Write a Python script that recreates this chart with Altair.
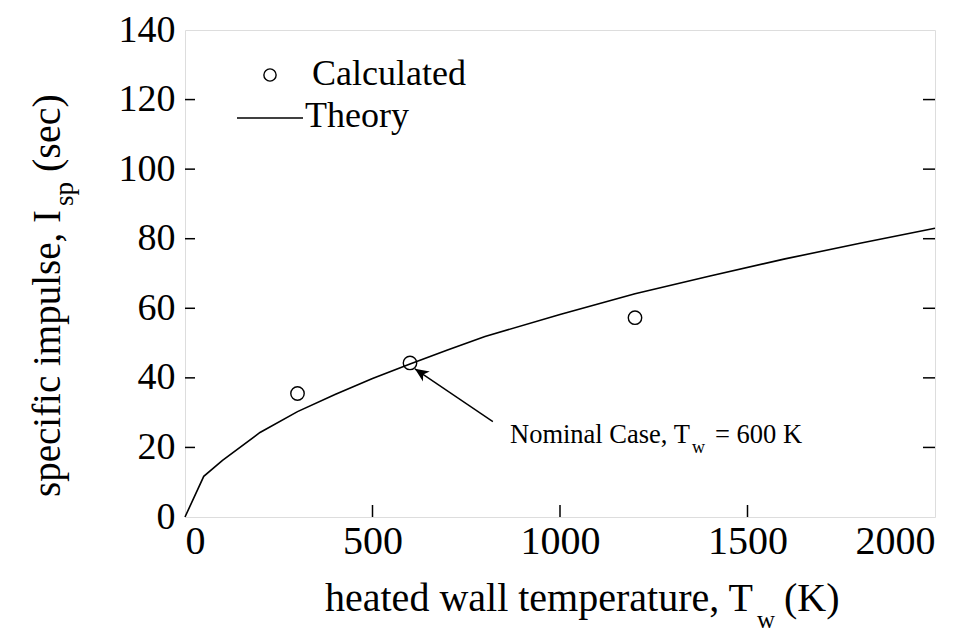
import altair as alt
import pandas as pd

# ---- data ----
theory_T = [0, 50, 100, 200, 300, 400, 500, 600, 700, 800, 1000, 1200, 1400, 1600, 1800, 2000]
theory_Isp = [0, 11.7, 16.3, 24.3, 30.3, 35.2, 39.8, 44.0, 48.0, 51.9, 58.2, 64.2, 69.3, 74.2, 78.7, 83.0]
calc_T = [300, 600, 1200]
calc_Isp = [35.5, 44.3, 57.3]
y_ticks = [0, 20, 40, 60, 80, 100, 120, 140]
x_ticks = [0, 500, 1000, 1500, 2000]
y_inner_ticks = [20, 40, 60, 80, 100, 120]
x_inner_ticks = [500, 1000, 1500]
arrow_tail = (821, 27.4)
arrow_tip = (613, 42.6)

FONT = "Liberation Serif"
W, H = 750, 487
TOP = 22
DY = 19 - TOP  # keep outside texts at the same absolute place
xs = alt.Scale(domain=[0, 2000], nice=False, zero=False)
ys = alt.Scale(domain=[0, 140], nice=False, zero=False)

theory = pd.DataFrame({"T": theory_T, "Isp": theory_Isp})
calc = pd.DataFrame({"T": calc_T, "Isp": calc_Isp})
one = pd.DataFrame({"a": [0]})

line = alt.Chart(theory).mark_line(color="black", strokeWidth=1.6).encode(
    x=alt.X("T:Q", scale=xs, axis=alt.Axis(values=x_ticks, format="d", title=None, ticks=False, tickSize=0,
                                           domain=False, grid=False, labelFont=FONT, labelFontSize=40,
                                           labelPadding=4, labelColor="black")),
    y=alt.Y("Isp:Q", scale=ys, axis=alt.Axis(values=y_ticks, format="d", title=None, ticks=False, tickSize=0,
                                             domain=False, grid=False, labelFont=FONT, labelFontSize=38,
                                             labelPadding=10, labelColor="black")),
)

pts = alt.Chart(calc).mark_point(shape="circle", size=180, filled=False, color="black",
                                 strokeWidth=1.4, opacity=1).encode(
    x=alt.X("T:Q", scale=xs), y=alt.Y("Isp:Q", scale=ys))

lt = alt.Chart(pd.DataFrame({"v": y_inner_ticks})).mark_rule(color="black", strokeWidth=1.5).encode(
    y=alt.Y("v:Q", scale=ys), x=alt.value(0), x2=alt.value(10))
rt = alt.Chart(pd.DataFrame({"v": y_inner_ticks})).mark_rule(color="black", strokeWidth=1.5).encode(
    y=alt.Y("v:Q", scale=ys), x=alt.value(W - 12), x2=alt.value(W))
bt = alt.Chart(pd.DataFrame({"v": x_inner_ticks})).mark_rule(color="black", strokeWidth=1.5).encode(
    x=alt.X("v:Q", scale=xs), y=alt.value(H - 12), y2=alt.value(H))

# legend
leg_pt = alt.Chart(one).mark_point(shape="circle", size=150, filled=False, color="black",
                                   strokeWidth=1.4, opacity=1).encode(x=alt.value(85), y=alt.value(48 + DY))
leg_line = alt.Chart(one).mark_rule(color="black", strokeWidth=1.6).encode(
    x=alt.value(52), x2=alt.value(118), y=alt.value(91 + DY))
def txt(s, x, y, size, angle=0, align="left"):
    return alt.Chart(pd.DataFrame({"t": [s]})).mark_text(
        font=FONT, fontSize=size, align=align, baseline="alphabetic", angle=angle, color="black"
    ).encode(x=alt.value(x), y=alt.value(y + DY), text="t:N")

leg_t1 = txt("Calculated", 127, 58, 36)
leg_t2 = txt("Theory", 120, 100, 36)

# annotation
arrow_df = pd.DataFrame({"T": [arrow_tail[0], arrow_tip[0]], "Isp": [arrow_tail[1], arrow_tip[1]]})
arrow_line = alt.Chart(arrow_df).mark_line(color="black", strokeWidth=1.4).encode(
    x=alt.X("T:Q", scale=xs), y=alt.Y("Isp:Q", scale=ys))
head = alt.Chart(pd.DataFrame({"T": [arrow_tip[0]], "Isp": [arrow_tip[1]]})).mark_point(
    shape="M0,0 L0.7,1.6 L0,1.15 L-0.7,1.6 Z", size=300, filled=True, color="black", opacity=1,
    angle=304).encode(x=alt.X("T:Q", scale=xs), y=alt.Y("Isp:Q", scale=ys))
ann1 = txt("Nominal Case, T", 325, 416, 26.5)
ann2 = txt("w", 507, 426, 18)
ann3 = txt("= 600 K", 530, 416, 26.5)

# axis titles
xt1 = txt("heated wall temperature, T", 140, 584, 40)
xt2 = txt("w", 572, 601, 25)
xt3 = txt("(K)", 599, 584, 40)
yt1 = txt("specific impulse, I", -125, 470, 39, angle=270)
yt2 = txt("sp", -112, 179, 27, angle=270)
yt3 = txt("(sec)", -125, 145, 40, angle=270)

chart = alt.layer(line, pts, lt, rt, bt, leg_pt, leg_line, leg_t1, leg_t2,
                  arrow_line, head, ann1, ann2, ann3, xt1, xt2, xt3, yt1, yt2, yt3).properties(
    width=W, height=H, autosize="none",
    padding={"left": 177, "top": TOP, "right": 16, "bottom": 627 - TOP - H},
).configure_view(stroke="black", strokeWidth=2.5).configure(background="white")

chart.save("out.html", embed_options={"renderer": "svg", "actions": False})
